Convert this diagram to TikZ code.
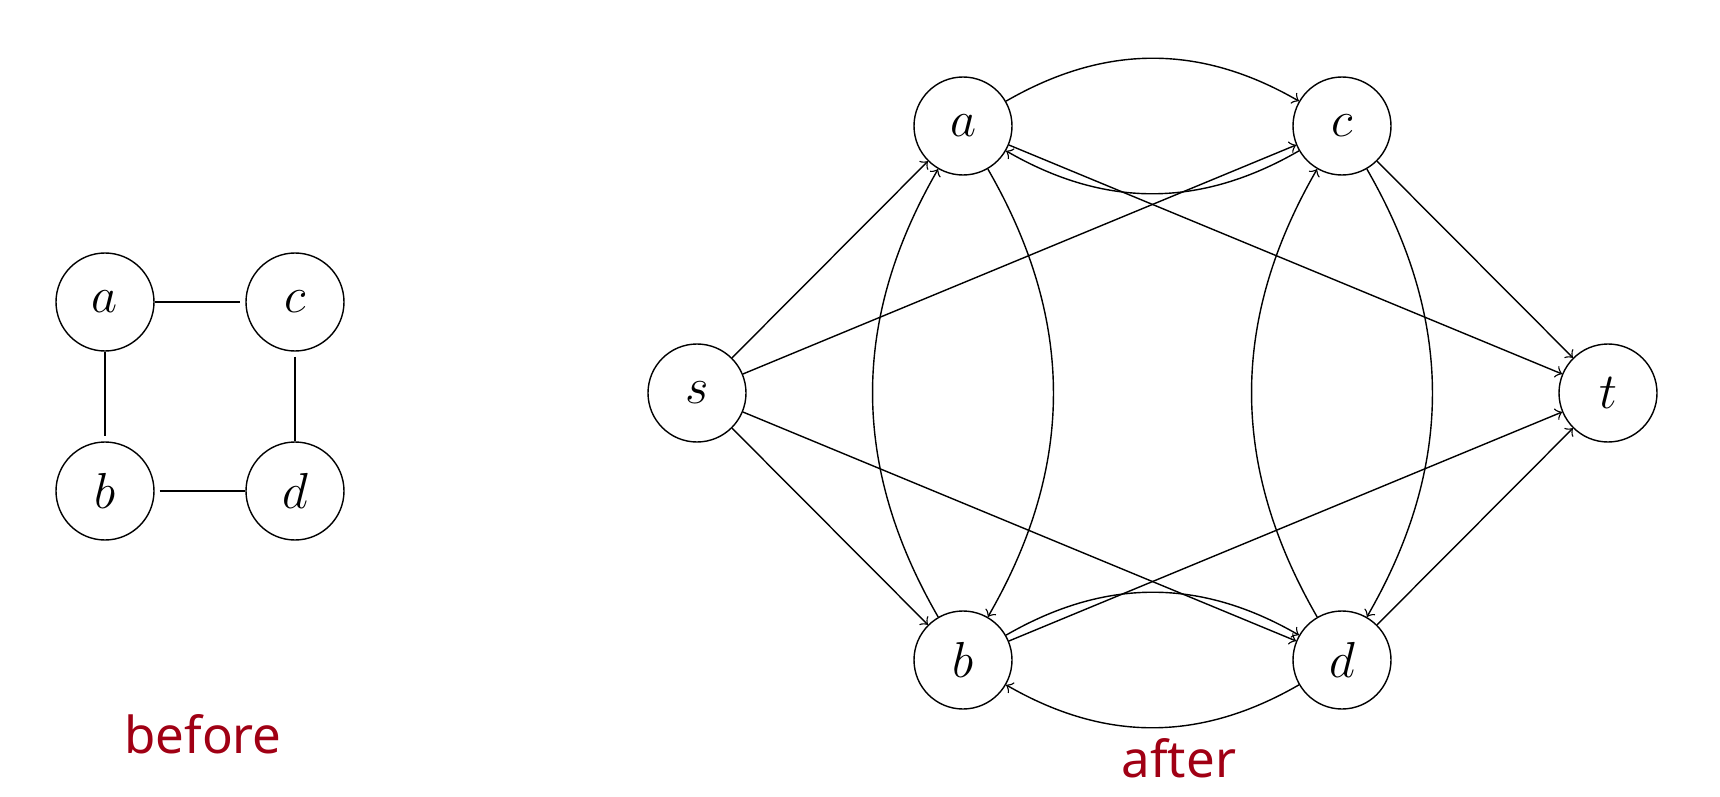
\documentclass[tikz,border=0pt]{standalone}
\usepackage{amsmath}
\usepackage{fontspec}
\newfontfamily\labelfont{Noto Sans}
\usepackage{tikz}
\usetikzlibrary{automata}
\usetikzlibrary{positioning}
\definecolor{capred}{RGB}{160,0,20}
\tikzset{	on grid,
	every state/.style={
		thin,
		minimum size=0.98cm,
		inner sep=0pt,
		font=\fontsize{14}{16}\selectfont},
	caption/.style={
		text=capred,
		font=\labelfont\fontsize{14.5}{17}\selectfont},
	every edge/.style={
		draw,
		->,
		thin}
}

\begin{document}
\begin{tikzpicture}
					\useasboundingbox (0,0) rectangle (17.2,7.96);
					% before
					\node[state] (a0) at (1.05,4.94) {$a$};
					\node[state, right=1.90cm of a0] (c0) {$c$};
					\node[state, below=1.89cm of a0] (b0) {$b$};
					\node[state, right=1.90cm of b0] (d0) {$d$};
					\draw[shorten >=0.05cm] (a0) -- (c0);
					\draw[shorten >=0.05cm] (a0) -- (b0);
					\draw[shorten <=0.05cm] (b0) -- (d0);
					\draw[shorten <=0.05cm] (c0) -- (d0);
					\node[caption] (before) at (2.03,0.62) {before};
					% after
					\node[state] (s) at (6.97,4.03) {$s$};
					\node[state, above right=2.67cm and 2.66cm of s] (a) {$a$};
					\node[state, right=3.79cm of a] (c) {$c$};
					\node[state, below=5.34cm of a] (b) {$b$};
					\node[state, right=3.79cm of b] (d) {$d$};
					\node[state, below right=2.67cm and 2.66cm of c] (t) {$t$};
					\draw (s) edge (a) edge (b) edge (c) edge (d);
					\draw (a) edge[bend left] (c) edge[bend left] (b) edge (t);
					\draw (c) edge[bend left] (a) edge[bend left] (d) edge (t);
					\draw (b) edge[bend left] (d) edge[bend left] (a) edge (t);
					\draw (d) edge[bend left] (b) edge[bend left] (c) edge (t);
					\node[caption] (after) at (11.79,0.38) {after};
				\end{tikzpicture}
\end{document}
